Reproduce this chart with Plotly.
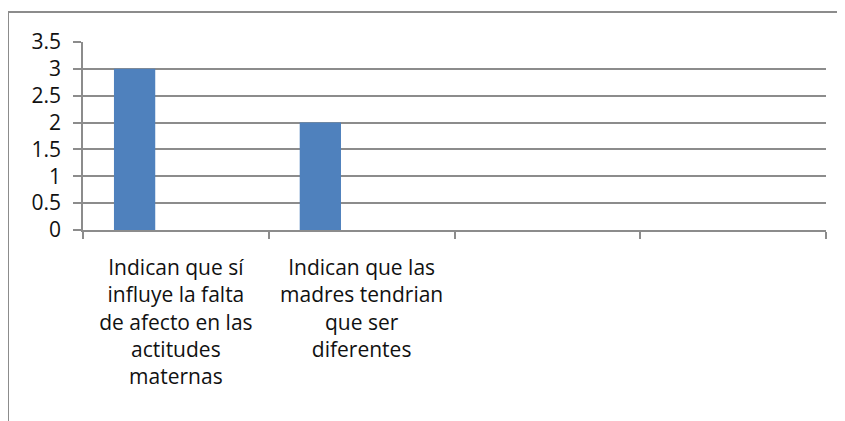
import plotly.graph_objects as go

categories = [
    "Indican que sí<br>influye la falta<br>de afecto en las<br>actitudes<br>maternas",
    "Indican que las<br>madres tendrian<br>que ser<br>diferentes",
    " ",
    "  ",
]
values = [3, 2, None, None]
y_ticks = [0, 0.5, 1, 1.5, 2, 2.5, 3, 3.5]
y_labels = ["0", "0.5", "1", "1.5", "2", "2.5", "3", "3.5"]

fig = go.Figure()
fig.add_trace(go.Bar(
    x=categories, y=values,
    width=1 / 4.5, offset=-0.5 + 0.75 / 4.5,
    marker=dict(color="#4F81BD", line=dict(width=0)),
))

font = dict(family="'Open Sans', sans-serif", size=21, color="#111111")
fig.update_layout(
    width=837, height=413,
    margin=dict(l=75, r=19, t=34, b=191),
    paper_bgcolor="white", plot_bgcolor="white",
    showlegend=False, font=font,
    xaxis=dict(
        type="category", tickson="boundaries", ticks="outside", ticklen=7,
        tickcolor="#8c8c8c", tickwidth=1.5, showgrid=False,
        showline=True, linecolor="#8c8c8c", linewidth=1.5,
        range=[-0.5, 3.5], tickfont=font, ticklabelstandoff=18,
    ),
    yaxis=dict(
        range=[0, 3.5], tickvals=y_ticks, ticktext=y_labels,
        ticks="outside", ticklen=8, tickcolor="#8c8c8c", tickwidth=1.5,
        showgrid=True, gridcolor="#8c8c8c", gridwidth=1.5,
        showline=True, linecolor="#8c8c8c", linewidth=1.5,
        zeroline=False, tickfont=font, ticklabelstandoff=8,
    ),
    shapes=[
        dict(type="line", xref="paper", yref="paper",
             x0=-75 / 743, x1=1.05, y0=218 / 188, y1=218 / 188,
             line=dict(color="#8c8c8c", width=2)),
        dict(type="line", xref="paper", yref="paper",
             x0=-75 / 743, x1=-75 / 743, y0=218 / 188, y1=-1.1,
             line=dict(color="#8c8c8c", width=2)),
    ],
)
fig.write_html("out.html")
